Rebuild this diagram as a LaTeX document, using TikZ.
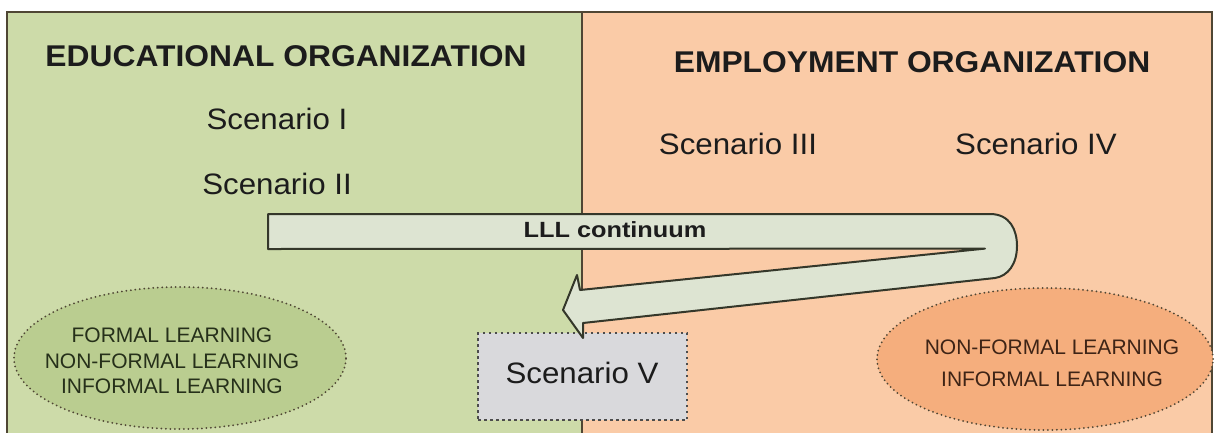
\documentclass[tikz,border=0pt]{standalone}
\usepackage{fontspec}
\setmainfont{Liberation Sans}
\newfontfamily\widefont{Liberation Sans}[FakeStretch=1.06]
\usepackage{graphicx}
\usetikzlibrary{shapes.geometric}
\definecolor{greenpanel}{HTML}{CDDBA9}
\definecolor{orangepanel}{HTML}{FACBA7}
\definecolor{frameline}{HTML}{4F4634}
\definecolor{barfill}{HTML}{DDE4D2}
\definecolor{barline}{HTML}{34372A}
\definecolor{greenell}{HTML}{BACD90}
\definecolor{orangeell}{HTML}{F5AE7D}
\definecolor{boxfill}{HTML}{D9D9DC}
\definecolor{txt}{HTML}{1C1C1C}
\definecolor{greentxt}{HTML}{26301A}
\definecolor{orangetxt}{HTML}{3E2416}
\tikzset{
  heading/.style={inner sep=0pt, text=txt, font=\widefont\fontsize{30}{30}\selectfont\bfseries},
  scen/.style={inner sep=0pt, text=txt, font=\widefont\fontsize{29.5}{30}\selectfont},
  learnell/.style={ellipse, draw=frameline, line width=2pt, dash pattern=on 0pt off 4.5pt, line cap=round, inner sep=0pt},
  learntxt/.style={inner sep=0pt, align=center, font=\fontsize{21}{25.5}\selectfont},
}
\begin{document}
\begin{tikzpicture}[x=1pt,y=-1pt]
\useasboundingbox (0,0) rectangle (1215,432);
\clip (0,0) rectangle (1215,432);
% panels
\fill[greenpanel] (7,12) rectangle (582,440);
\fill[orangepanel] (582,12) rectangle (1212,440);
\draw[frameline, line width=2pt] (7,440) -- (7,12) -- (1212,12) -- (1212,440);
\draw[frameline, line width=2pt] (582,12) -- (582,440);
% ellipses
\node[learnell, fill=greenell, minimum width=332pt, minimum height=142pt] (formalE) at (180,358) {};
\node[learnell, fill=orangeell, minimum width=336pt, minimum height=142pt] (nonformalE) at (1045,359) {};
\node[learntxt, text=greentxt] (formalT) at (172,361) {FORMAL LEARNING\\NON-FORMAL LEARNING\\INFORMAL LEARNING};
\node[learntxt, text=orangetxt, font=\fontsize{21}{32}\selectfont] (nonformalT) at (1052,363) {NON-FORMAL LEARNING\\INFORMAL LEARNING};
% scenario V box
\node[draw=gray!60!black, fill=boxfill, line width=1.4pt, dash pattern=on 2.5pt off 3.5pt, minimum width=209pt, minimum height=87pt, inner sep=0pt] (s5box) at (582.5,376.5) {};
\node[scen] (s5) at (582,373) {Scenario V};
% LLL continuum arrow
\coordinate (barL) at (268,214);
\coordinate (tipA) at (563,310);
\filldraw[fill=barfill, draw=barline, line width=2pt, line join=round]
  (barL) -- (990,214)
  .. controls (1010,214) and (1017,230) .. (1017,246)
  .. controls (1017,264) and (1008,276) .. (995,278)
  -- (583,323) -- (583,338) -- (tipA) -- (577,275) -- (580,290)
  -- (985,248.6) -- (268,249) -- cycle;
\node[inner sep=0pt, text=txt, font=\fontsize{22}{22}\selectfont\bfseries] (lll) at (615,230) {\scalebox{1.15}[1]{LLL continuum}};
% headings and scenarios
\node[heading] (edu) at (286,56.5) {EDUCATIONAL ORGANIZATION};
\node[heading] (emp) at (912,62) {EMPLOYMENT ORGANIZATION};
\node[scen] (s1) at (277,119) {Scenario I};
\node[scen] (s2) at (277,184) {Scenario II};
\node[scen] (s3) at (738,144) {Scenario III};
\node[scen] (s4) at (1036,144) {Scenario IV};
\end{tikzpicture}
\end{document}
